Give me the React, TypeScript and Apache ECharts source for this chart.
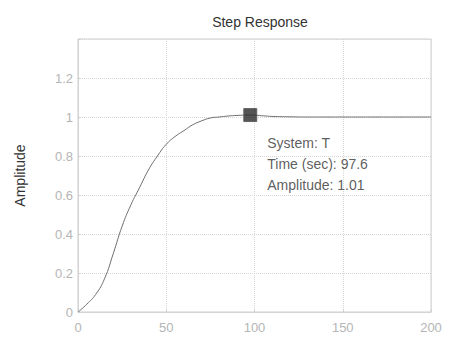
import React, { useEffect, useRef } from "react";
import * as echarts from "echarts";

const timeValues = [0, 5, 10, 15, 20, 25, 30, 35, 40, 45, 50, 55, 60, 65, 70, 75, 80, 85, 90, 97.6, 105, 110, 120, 130, 140, 150, 160, 170, 180, 190, 200];
const amplitudeValues = [0, 0.04, 0.09, 0.17, 0.3, 0.44, 0.55, 0.64, 0.73, 0.8, 0.86, 0.9, 0.93, 0.96, 0.98, 0.995, 1.0, 1.005, 1.008, 1.01, 1.006, 1.003, 1.001, 1.0, 1.0, 1.0, 1.0, 1.0, 1.0, 1.0, 1.0];
const markerPoint = [97.6, 1.01];
const annotationLines = ["System: T", "Time (sec): 97.6", "Amplitude: 1.01"];
const xTicks = [0, 50, 100, 150, 200];
const yTicks = [0, 0.2, 0.4, 0.6, 0.8, 1, 1.2, 1.4];

const FONT = "Liberation Sans, Arial, sans-serif";

export default function App() {
  const ref = useRef<HTMLDivElement>(null);
  useEffect(() => {
    if (!ref.current) return;
    const chart = echarts.init(ref.current, undefined, { renderer: "svg" });
    const lineData = timeValues.map((t, i) => [t, amplitudeValues[i]]);
    chart.setOption({
      animation: false,
      backgroundColor: "#ffffff",
      title: {
        text: "Step Response",
        left: 255,
        top: 10,
        textAlign: "center",
        textStyle: { fontFamily: FONT, fontSize: 14, fontWeight: "normal", color: "#333" },
      },
      grid: {
        left: 78,
        right: 22,
        top: 39,
        bottom: 28,
        show: true,
        borderColor: "#cfcfcf",
        borderWidth: 1,
      },
      xAxis: {
        type: "value",
        min: xTicks[0],
        max: xTicks[xTicks.length - 1],
        interval: 50,
        axisLine: { show: true, lineStyle: { color: "#cfcfcf", type: "dotted" } },
        axisTick: { show: true, inside: true, length: 3, lineStyle: { color: "#cfcfcf" } },
        axisLabel: { fontFamily: FONT, fontSize: 13, color: "#b5b5b5", margin: 9 },
        splitLine: { show: true, lineStyle: { color: "#d6d6d6", type: "dotted" } },
      },
      yAxis: {
        type: "value",
        min: yTicks[0],
        max: yTicks[yTicks.length - 1],
        interval: 0.2,
        name: "Amplitude",
        nameLocation: "middle",
        nameGap: 51,
        nameTextStyle: { fontFamily: FONT, fontSize: 14, color: "#333" },
        axisLine: { show: true, lineStyle: { color: "#cfcfcf", type: "dotted" } },
        axisTick: { show: true, inside: true, length: 3, lineStyle: { color: "#cfcfcf" } },
        axisLabel: {
          fontFamily: FONT,
          fontSize: 13,
          color: "#b5b5b5",
          margin: 5,
          formatter: (v: number) => (v > 1.3 ? "" : String(Number(v.toFixed(1)))),
        },
        splitLine: { show: true, lineStyle: { color: "#d6d6d6", type: "dotted" } },
      },
      series: [
        {
          type: "line",
          data: lineData,
          showSymbol: false,
          smooth: true,
          lineStyle: { color: "#6e6e6e", width: 1 },
          z: 2,
        },
        {
          type: "scatter",
          data: [markerPoint],
          symbol: "rect",
          symbolSize: 13,
          itemStyle: { color: "#2a2a2a", borderColor: "#555", borderWidth: 1 },
          z: 3,
          label: {
            show: true,
            position: [24, 24],
            formatter: () => annotationLines.join("\n"),
            fontFamily: FONT,
            fontSize: 14,
            lineHeight: 21,
            color: "#333",
            align: "left",
            verticalAlign: "top",
          },
        },
      ],
    });
    return () => chart.dispose();
  }, []);
  return <div ref={ref} style={{ width: 453, height: 340, position: "absolute", left: 0, top: 0 }} />;
}
